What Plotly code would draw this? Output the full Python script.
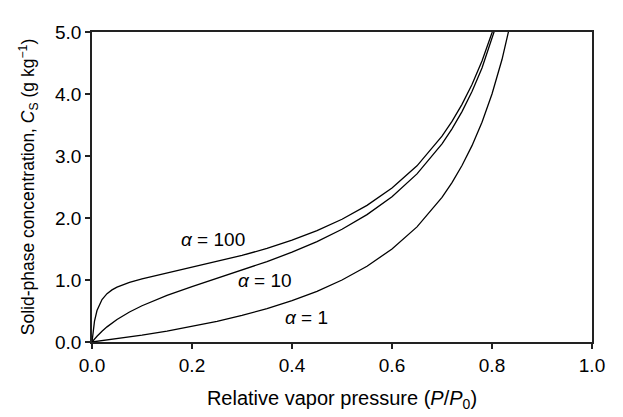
import plotly.graph_objects as go

# Relative vapor pressure (x) and solid-phase concentration (g/kg)
x_a1 = [0, 0.05, 0.1, 0.15, 0.2, 0.25, 0.3, 0.35, 0.4, 0.45, 0.5, 0.55, 0.6, 0.65,
        0.7, 0.72, 0.74, 0.76, 0.78, 0.8, 0.82, 0.84]
y_a1 = [0, 0.053, 0.111, 0.176, 0.25, 0.333, 0.429, 0.538, 0.667, 0.818, 1.0, 1.222,
        1.5, 1.857, 2.333, 2.571, 2.846, 3.167, 3.545, 4.0, 4.556, 5.25]

x_a10 = [0, 0.005, 0.01, 0.02, 0.03, 0.05, 0.075, 0.1, 0.15, 0.2, 0.25, 0.3, 0.35,
         0.4, 0.45, 0.5, 0.55, 0.6, 0.65, 0.7, 0.72, 0.74, 0.76, 0.78, 0.8, 0.81]
y_a10 = [0, 0.048, 0.093, 0.173, 0.244, 0.363, 0.484, 0.585, 0.751, 0.893, 1.026,
         1.158, 1.297, 1.449, 1.620, 1.818, 2.054, 2.344, 2.711, 3.196, 3.438, 3.716,
         4.039, 4.421, 4.878, 5.143]

x_a100 = [0, 0.001, 0.002, 0.005, 0.01, 0.015, 0.02, 0.03, 0.04, 0.05, 0.075, 0.1,
          0.15, 0.2, 0.25, 0.3, 0.35, 0.4, 0.45, 0.5, 0.55, 0.6, 0.65, 0.7, 0.72,
          0.74, 0.76, 0.78, 0.8, 0.81]
y_a100 = [0, 0.091, 0.167, 0.336, 0.508, 0.613, 0.685, 0.779, 0.840, 0.885, 0.962,
          1.019, 1.113, 1.202, 1.294, 1.396, 1.510, 1.642, 1.796, 1.980, 2.204, 2.483,
          2.842, 3.319, 3.558, 3.833, 4.154, 4.533, 4.988, 5.251]

labels = ["<i>α</i> = 100", "<i>α</i> = 10", "<i>α</i> = 1"]
label_x = [0.242, 0.346, 0.428]
label_y = [1.66, 1.0, 0.40]

x_ticks = [0.0, 0.2, 0.4, 0.6, 0.8, 1.0]
y_ticks = [0.0, 1.0, 2.0, 3.0, 4.0, 5.0]

font = "Liberation Sans, Arial, Helvetica, sans-serif"

fig = go.Figure()
for xs, ys in [(x_a1, y_a1), (x_a10, y_a10), (x_a100, y_a100)]:
    fig.add_trace(go.Scatter(x=xs, y=ys, mode="lines",
                             line=dict(color="black", width=1.3),
                             showlegend=False, hoverinfo="skip"))

for t, lx, ly in zip(labels, label_x, label_y):
    fig.add_annotation(x=lx, y=ly, text=t, showarrow=False,
                       font=dict(family=font, size=19, color="black"))

axis_common = dict(showgrid=False, zeroline=False, showline=True, linecolor="#222",
                   linewidth=1.5, mirror=True, ticks="outside", ticklen=5,
                   tickwidth=1.5, tickcolor="#222",
                   tickfont=dict(family=font, size=19, color="black"))

fig.update_xaxes(range=[0, 1.0], tickvals=x_ticks, tickformat=".1f",
                 title=dict(text="Relative vapor pressure (<i>P</i>/<i>P</i><sub>0</sub>)",
                            font=dict(family=font, size=20, color="black"), standoff=16),
                 **axis_common)
fig.update_yaxes(range=[0, 5.0], tickvals=y_ticks, tickformat=".1f",
                 title=dict(text="Solid-phase concentration, <i>C</i><sub>S</sub> (g kg<sup>−1</sup>)",
                            font=dict(family=font, size=17.5, color="black"), standoff=16),
                 **axis_common)

fig.update_layout(width=623, height=417, margin=dict(l=92, r=31, t=32, b=75),
                  plot_bgcolor="white", paper_bgcolor="white")

fig.write_html("out.html")
